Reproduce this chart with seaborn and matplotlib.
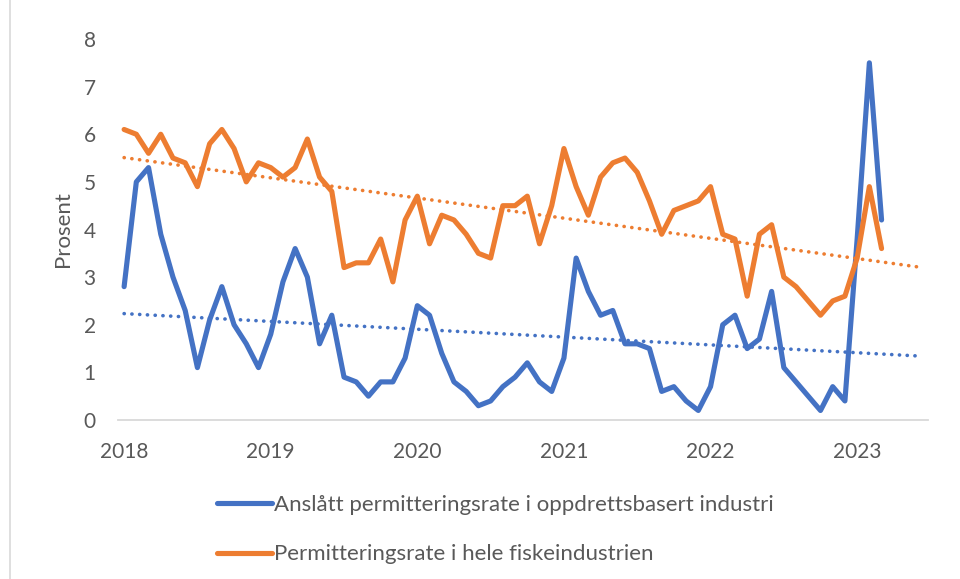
import numpy as np
import pandas as pd
import seaborn as sns
import matplotlib.pyplot as plt
from matplotlib.lines import Line2D

# monthly observations, Jan 2018 - Mar 2023
YEARS = [2018, 2019, 2020, 2021, 2022, 2023]
LABEL_BLUE = "Anslått permitteringsrate i oppdrettsbasert industri"
LABEL_ORANGE = "Permitteringsrate i hele fiskeindustrien"

oppdrett = [2.8, 5.0, 5.3, 3.9, 3.0, 2.3, 1.1, 2.1, 2.8, 2.0, 1.6, 1.1,
            1.8, 2.9, 3.6, 3.0, 1.6, 2.2, 0.9, 0.8, 0.5, 0.8, 0.8, 1.3,
            2.4, 2.2, 1.4, 0.8, 0.6, 0.3, 0.4, 0.7, 0.9, 1.2, 0.8, 0.6,
            1.3, 3.4, 2.7, 2.2, 2.3, 1.6, 1.6, 1.5, 0.6, 0.7, 0.4, 0.2,
            0.7, 2.0, 2.2, 1.5, 1.7, 2.7, 1.1, 0.8, 0.5, 0.2, 0.7, 0.4,
            3.8, 7.5, 4.2]

hele = [6.1, 6.0, 5.6, 6.0, 5.5, 5.4, 4.9, 5.8, 6.1, 5.7, 5.0, 5.4,
        5.3, 5.1, 5.3, 5.9, 5.1, 4.8, 3.2, 3.3, 3.3, 3.8, 2.9, 4.2,
        4.7, 3.7, 4.3, 4.2, 3.9, 3.5, 3.4, 4.5, 4.5, 4.7, 3.7, 4.5,
        5.7, 4.9, 4.3, 5.1, 5.4, 5.5, 5.2, 4.6, 3.9, 4.4, 4.5, 4.6,
        4.9, 3.9, 3.8, 2.6, 3.9, 4.1, 3.0, 2.8, 2.5, 2.2, 2.5, 2.6,
        3.4, 4.9, 3.6]

FORECAST = 3  # trendline runs a few months past the data

BLUE = "#4472C4"
ORANGE = "#ED7D31"
TEXT = "#595959"

sns.set_theme(style="white")
plt.rcParams["font.family"] = ["Lato", "DejaVu Sans"]

maaned = np.arange(len(oppdrett))
df = pd.DataFrame({
    "maaned": np.concatenate([maaned, maaned]),
    "prosent": oppdrett + hele,
    "serie": [LABEL_BLUE] * len(oppdrett) + [LABEL_ORANGE] * len(hele),
})

fig = plt.figure(figsize=(9.6, 5.79), dpi=100)
ax = fig.add_axes([118 / 960, 1 - 420 / 579, (928 - 118) / 960, (420 - 39) / 579])

sns.lineplot(data=df, x="maaned", y="prosent", hue="serie",
             palette=[BLUE, ORANGE], linewidth=3.7, legend=False, ax=ax)

# linear trendlines
trend_x = np.arange(len(oppdrett) + FORECAST)
for values, color in [(oppdrett, BLUE), (hele, ORANGE)]:
    k, m = np.polyfit(maaned, values, 1)
    sns.lineplot(x=trend_x, y=k * trend_x + m, color=color, linewidth=2.6,
                 linestyle=(0, (0.05, 2.1)), dash_capstyle="round", ax=ax)

ax.set_xlim(-0.5, 65.8)
ax.set_ylim(0, 8)
ax.set_xticks([(y - 2018) * 12 for y in YEARS])
ax.set_xticklabels([str(y) for y in YEARS])
ax.set_yticks(range(0, 9))
ax.tick_params(axis="both", length=0, labelsize=15, colors=TEXT)
ax.tick_params(axis="x", pad=16)
ax.tick_params(axis="y", pad=16)
ax.set_xlabel("")
ax.set_ylabel("Prosent", fontsize=16, color=TEXT, labelpad=8)

for side in ["top", "right", "left"]:
    ax.spines[side].set_visible(False)
ax.spines["bottom"].set_color("#D9D9D9")
ax.spines["bottom"].set_linewidth(1.3)

# chart area border on the left
fig.add_artist(Line2D([10 / 960, 10 / 960], [0, 1], color="#D9D9D9", lw=1.2))

handles = [Line2D([], [], color=BLUE, lw=3.7, solid_capstyle="round"),
           Line2D([], [], color=ORANGE, lw=3.7, solid_capstyle="round")]
leg = fig.legend(handles, [LABEL_BLUE, LABEL_ORANGE], loc="upper left",
                 bbox_to_anchor=(206 / 960, 1 - 484 / 579), frameon=False,
                 fontsize=16, handlelength=2.45, handletextpad=0.1,
                 labelspacing=1.32, borderpad=0)
for t in leg.get_texts():
    t.set_color(TEXT)

fig.savefig("out.png", dpi=100)
